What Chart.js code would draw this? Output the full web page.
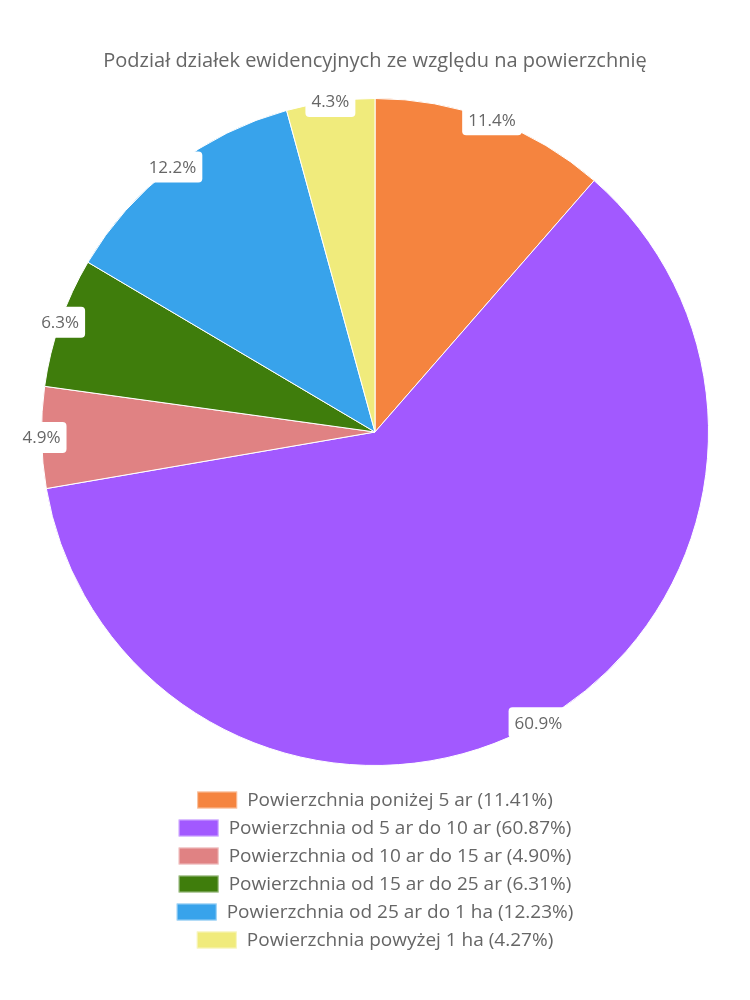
<!DOCTYPE html>
<html>
<head>
<meta charset="utf-8">
<script src="https://cdn.jsdelivr.net/npm/chart.js@4"></script>
<style>
html,body{margin:0;padding:0;background:#fff;}
#wrap{width:750px;height:1000px;position:relative;}
</style>
</head>
<body>
<div id="wrap"><canvas id="c"></canvas></div>
<script>
const categories = [
  "Powierzchnia poniżej 5 ar",
  "Powierzchnia od 5 ar do 10 ar",
  "Powierzchnia od 10 ar do 15 ar",
  "Powierzchnia od 15 ar do 25 ar",
  "Powierzchnia od 25 ar do 1 ha",
  "Powierzchnia powyżej 1 ha"
];
const values = [11.41, 60.87, 4.90, 6.31, 12.23, 4.27];
const colors = ["#F5843F", "#A259FF", "#E08283", "#3F7D0C", "#38A3EB", "#F0EB7C"];
const titleText = "Podział działek ewidencyjnych ze względu na powierzchnię";
const FONT = "'Open Sans', sans-serif";
const TEXT_COLOR = '#666';

// percentage labels centred on the outer edge of each slice
const edgeLabels = {
  id: 'edgeLabels',
  afterDatasetsDraw(chart) {
    const ctx = chart.ctx;
    const meta = chart.getDatasetMeta(0);
    const total = values.reduce((a, b) => a + b, 0);
    ctx.save();
    ctx.font = "17px " + FONT;
    ctx.textAlign = 'center';
    ctx.textBaseline = 'middle';
    meta.data.forEach((arc, i) => {
      const p = arc.getProps(['x', 'y', 'startAngle', 'endAngle', 'outerRadius'], true);
      const mid = (p.startAngle + p.endAngle) / 2;
      const x = p.x + Math.cos(mid) * p.outerRadius;
      const y = p.y + Math.sin(mid) * p.outerRadius;
      const txt = (values[i] / total * 100).toFixed(1) + '%';
      const w = ctx.measureText(txt).width + 12;
      const h = 31;
      ctx.fillStyle = '#fff';
      ctx.beginPath();
      ctx.roundRect(x - w / 2, y - h / 2, w, h, 4);
      ctx.fill();
      ctx.fillStyle = TEXT_COLOR;
      ctx.fillText(txt, x, y + 1);
    });
    ctx.restore();
  }
};

// one legend entry per row, centred, under the pie
const rowLegend = {
  id: 'rowLegend',
  afterDraw(chart) {
    const ctx = chart.ctx;
    const cx = chart.width / 2;
    const firstY = chart.chartArea.bottom + 34;
    const rowH = 28;
    const boxW = 40, boxH = 17, gap = 10;
    ctx.save();
    ctx.font = "19px " + FONT;
    ctx.textBaseline = 'middle';
    ctx.textAlign = 'left';
    categories.forEach((c, i) => {
      const txt = c + ' (' + values[i].toFixed(2) + '%)';
      const tw = ctx.measureText(txt).width;
      const total = boxW + gap + tw;
      const x0 = cx - total / 2;
      const y = firstY + i * rowH;
      ctx.fillStyle = colors[i];
      ctx.fillRect(x0, y - boxH / 2, boxW, boxH);
      ctx.strokeStyle = 'rgba(255,255,255,0.5)';
      ctx.lineWidth = 1;
      ctx.strokeRect(x0 + 0.5, y - boxH / 2 + 0.5, boxW - 1, boxH - 1);
      ctx.fillStyle = TEXT_COLOR;
      ctx.fillText(txt, x0 + boxW + gap, y + 1);
    });
    ctx.restore();
  }
};

new Chart(document.getElementById('c'), {
  type: 'pie',
  data: {
    labels: categories,
    datasets: [{
      data: values,
      backgroundColor: colors,
      borderColor: '#fff',
      borderWidth: 1
    }]
  },
  options: {
    responsive: true,
    maintainAspectRatio: false,
    animation: false,
    layout: { padding: { top: 38, bottom: 234, left: 0, right: 0 } },
    plugins: {
      title: {
        display: true,
        text: titleText,
        color: TEXT_COLOR,
        font: { family: FONT, size: 20, weight: 'normal' },
        padding: { top: 11, bottom: 25 }
      },
      legend: { display: false },
      tooltip: { enabled: false }
    }
  },
  plugins: [edgeLabels, rowLegend]
});
</script>
</body>
</html>
